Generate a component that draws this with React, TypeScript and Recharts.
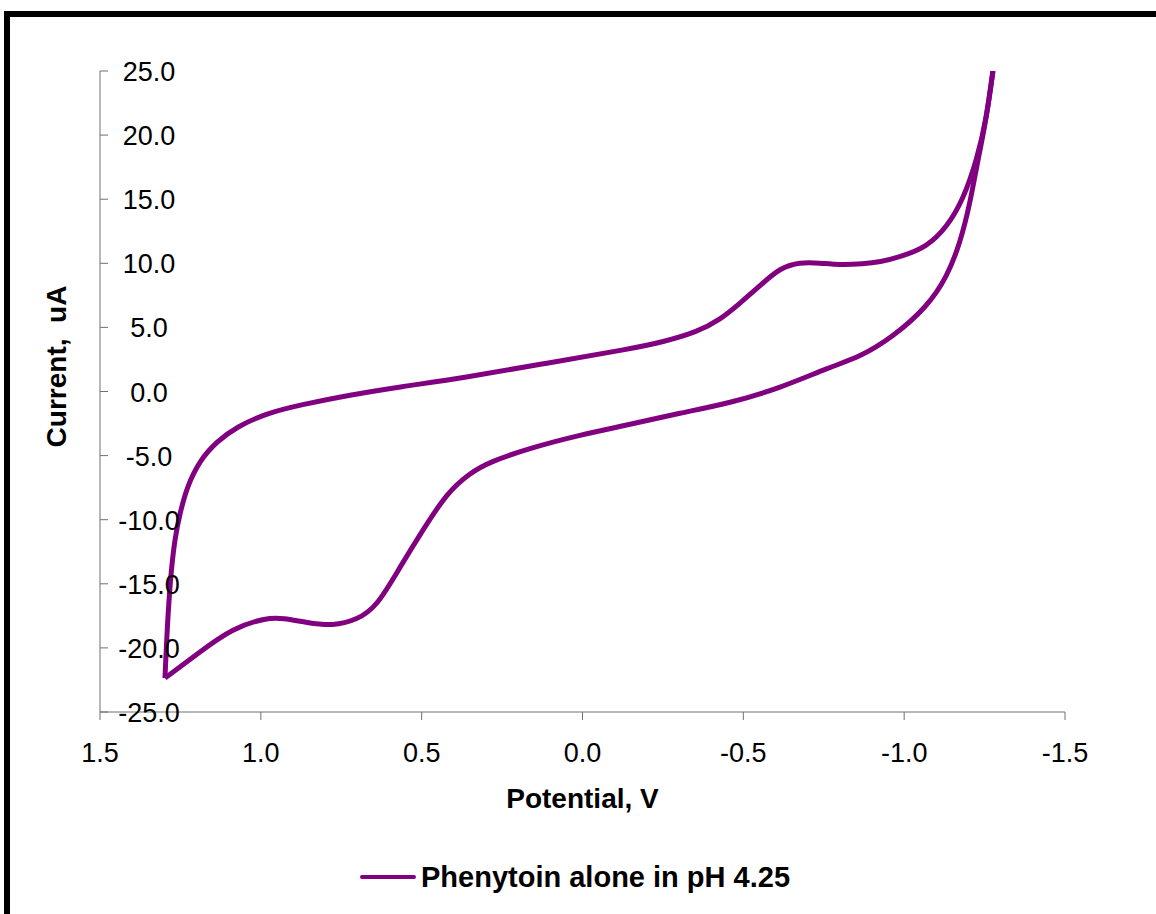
import React from 'react';
import { LineChart, Line, XAxis, YAxis, Legend, Label } from 'recharts';

// forward scan: from +1.3 V towards -1.28 V (upper branch)
const forwardScan = [
  { x: 1.298, y: -22.35 },
  { x: 1.293, y: -19.38 },
  { x: 1.282, y: -14.7 },
  { x: 1.267, y: -11.35 },
  { x: 1.251, y: -9.48 },
  { x: 1.23, y: -7.45 },
  { x: 1.189, y: -5.34 },
  { x: 1.137, y: -3.91 },
  { x: 1.075, y: -2.75 },
  { x: 0.982, y: -1.7 },
  { x: 0.878, y: -1.05 },
  { x: 0.723, y: -0.27 },
  { x: 0.567, y: 0.37 },
  { x: 0.372, y: 1.05 },
  { x: 0.11, y: 2.22 },
  { x: -0.148, y: 3.32 },
  { x: -0.25, y: 3.86 },
  { x: -0.356, y: 4.64 },
  { x: -0.427, y: 5.58 },
  { x: -0.49, y: 6.9 },
  { x: -0.561, y: 8.46 },
  { x: -0.614, y: 9.63 },
  { x: -0.676, y: 10.1 },
  { x: -0.738, y: 10.02 },
  { x: -0.801, y: 9.87 },
  { x: -0.872, y: 9.95 },
  { x: -0.925, y: 10.1 },
  { x: -0.987, y: 10.49 },
  { x: -1.071, y: 11.27 },
  { x: -1.133, y: 12.83 },
  { x: -1.183, y: 14.94 },
  { x: -1.226, y: 18.06 },
  { x: -1.257, y: 21.41 },
  { x: -1.276, y: 25.0 },
];

// reverse scan: back from -1.28 V to +1.3 V (lower branch)
const reverseScan = [
  { x: -1.276, y: 25.0 },
  { x: -1.251, y: 20.63 },
  { x: -1.229, y: 18.06 },
  { x: -1.205, y: 14.7 },
  { x: -1.174, y: 11.58 },
  { x: -1.133, y: 8.93 },
  { x: -1.071, y: 6.59 },
  { x: -0.965, y: 4.25 },
  { x: -0.863, y: 2.69 },
  { x: -0.769, y: 1.91 },
  { x: -0.614, y: 0.27 },
  { x: -0.459, y: -0.9 },
  { x: -0.303, y: -1.68 },
  { x: -0.148, y: -2.57 },
  { x: 0.008, y: -3.39 },
  { x: 0.163, y: -4.41 },
  { x: 0.288, y: -5.48 },
  { x: 0.35, y: -6.36 },
  { x: 0.422, y: -7.92 },
  { x: 0.496, y: -10.8 },
  { x: 0.567, y: -13.68 },
  { x: 0.64, y: -16.81 },
  { x: 0.702, y: -17.82 },
  { x: 0.776, y: -18.29 },
  { x: 0.857, y: -18.03 },
  { x: 0.931, y: -17.67 },
  { x: 0.982, y: -17.64 },
  { x: 1.087, y: -18.45 },
  { x: 1.189, y: -20.3 },
  { x: 1.298, y: -22.35 },
];

const xTicks = [1.5, 1.0, 0.5, 0.0, -0.5, -1.0, -1.5];
const yTicks = [-25, -20, -15, -10, -5, 0, 5, 10, 15, 20, 25];

const seriesName = 'Phenytoin alone in pH 4.25';
const lineColor = '#800080';
const axisColor = '#707070';
const font = '"Liberation Sans", Arial, sans-serif';

const XTick = (props: any) => {
  const { x, y, payload } = props;
  return (
    <text x={x} y={y + 42} textAnchor="middle" fontFamily={font} fontSize={27} fill="#000">
      {Number(payload.value).toFixed(1)}
    </text>
  );
};

const YTick = (props: any) => {
  const { x, y, payload } = props;
  return (
    <g>
      <line x1={x} y1={y} x2={x + 8} y2={y} stroke={axisColor} strokeWidth={1} />
      <text x={x + 49} y={y} dy={10} textAnchor="middle" fontFamily={font} fontSize={27} fill="#000">
        {Number(payload.value).toFixed(1)}
      </text>
    </g>
  );
};

const LegendBox = () => (
  <div style={{ display: 'flex', alignItems: 'center' }}>
    <svg width={56} height={10}>
      <line x1={2} y1={5} x2={54} y2={5} stroke={lineColor} strokeWidth={4} strokeLinecap="round" />
    </svg>
    <span style={{ fontFamily: font, fontWeight: 'bold', fontSize: 29, marginLeft: 5, lineHeight: '32px' }}>
      {seriesName}
    </span>
  </div>
);

export default function App() {
  return (
    <div style={{ position: 'absolute', left: 0, top: 0, width: 1156, height: 914, background: '#fff', overflow: 'hidden' }}>
      <div
        style={{
          position: 'absolute',
          left: 4,
          top: 11,
          width: 1200,
          height: 960,
          borderTop: '6px solid #000',
          borderLeft: '6px solid #000',
        }}
      />
      <LineChart width={1156} height={914} margin={{ top: 71, right: 91, bottom: 172, left: 40 }}>
        <XAxis
          type="number"
          dataKey="x"
          domain={[-1.5, 1.5]}
          reversed
          ticks={xTicks}
          allowDataOverflow
          height={30}
          stroke={axisColor}
          tickSize={8}
          tickMargin={0}
          tick={<XTick />}
        >
          <Label
            content={({ viewBox }: any) => (
              <text
                x={viewBox.x + viewBox.width / 2}
                y={viewBox.y + 96}
                textAnchor="middle"
                fontFamily={font}
                fontWeight="bold"
                fontSize={28}
                fill="#000"
              >
                Potential, V
              </text>
            )}
          />
        </XAxis>
        <YAxis
          type="number"
          dataKey="y"
          domain={[-25, 25]}
          ticks={yTicks}
          allowDataOverflow
          width={60}
          stroke={axisColor}
          tickLine={false}
          tickSize={0}
          tickMargin={0}
          tick={<YTick />}
        >
          <Label
            content={({ viewBox }: any) => {
              const cy = viewBox.y + viewBox.height / 2 - 25;
              return (
                <text
                  x={56}
                  y={cy}
                  transform={`rotate(-90, 56, ${cy})`}
                  textAnchor="middle"
                  dominantBaseline="central"
                  fontFamily={font}
                  fontWeight="bold"
                  fontSize={28}
                  fill="#000"
                  style={{ whiteSpace: 'pre' }}
                >
                  {'Current,  uA'}
                </text>
              );
            }}
          />
        </YAxis>
        <Legend
          layout="vertical"
          align="center"
          verticalAlign="middle"
          wrapperStyle={{ left: 360, top: 861, width: 480, height: 34 }}
          content={() => <LegendBox />}
        />
        <Line
          data={forwardScan}
          dataKey="y"
          name={seriesName}
          type="basis"
          stroke={lineColor}
          strokeWidth={5}
          dot={false}
          activeDot={false}
          isAnimationActive={false}
        />
        <Line
          data={reverseScan}
          dataKey="y"
          name={seriesName}
          type="basis"
          stroke={lineColor}
          strokeWidth={5}
          dot={false}
          activeDot={false}
          legendType="none"
          isAnimationActive={false}
        />
      </LineChart>
    </div>
  );
}
